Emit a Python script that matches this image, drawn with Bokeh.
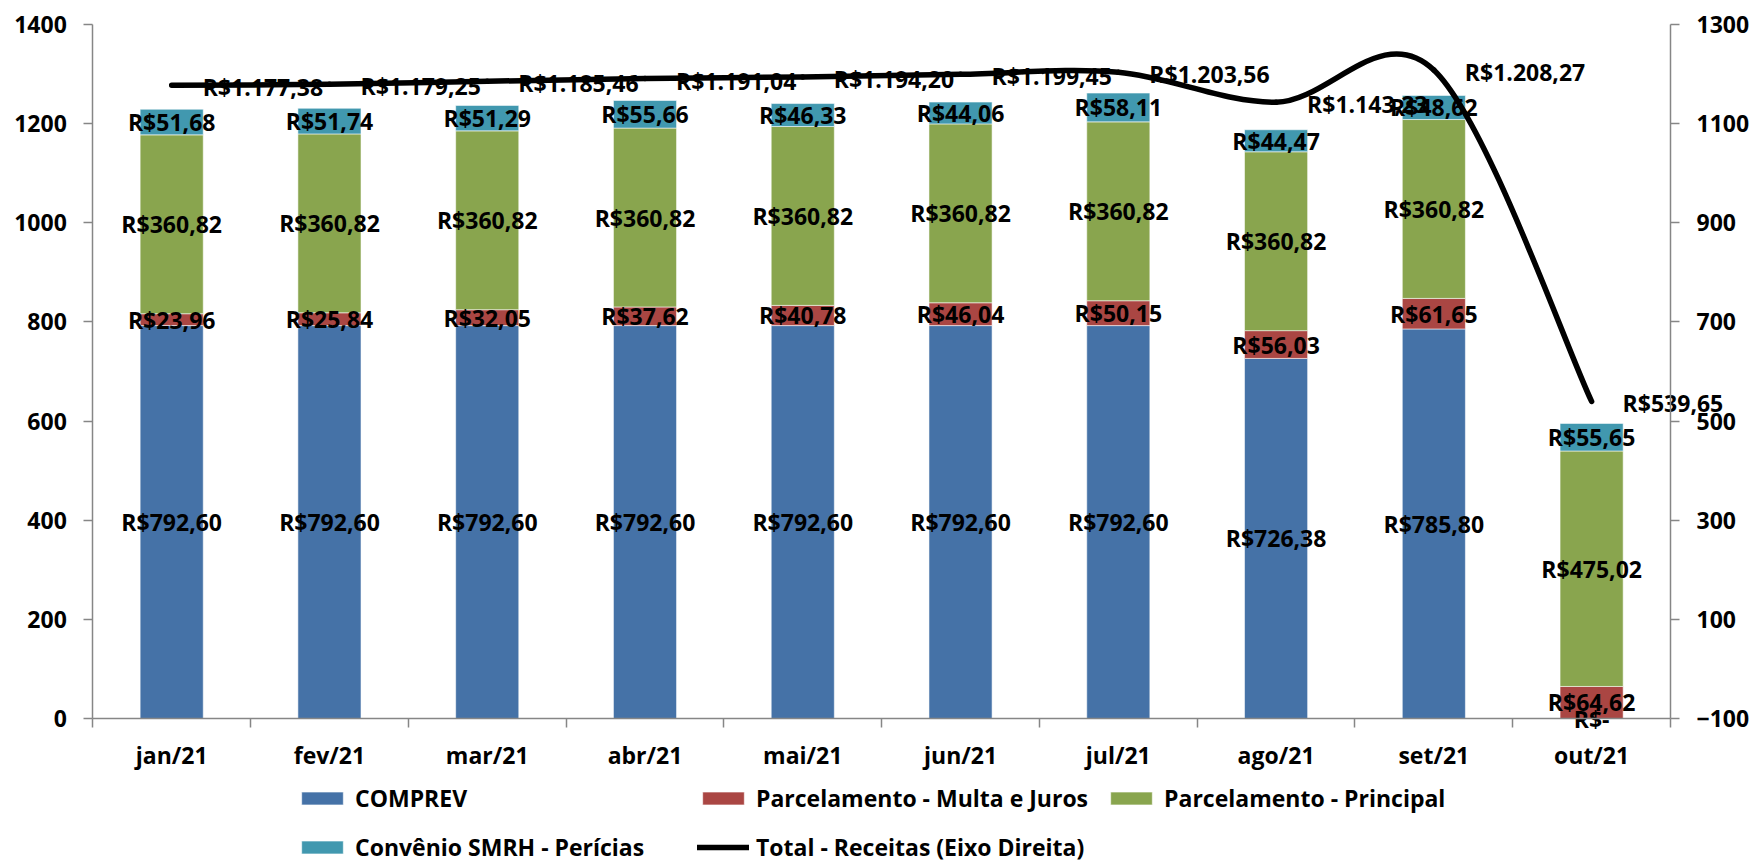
import numpy as np
from bokeh.plotting import figure
from bokeh.models import (ColumnDataSource, Range1d, LinearAxis, FixedTicker,
                          Legend, LegendItem)
from bokeh.core.properties import value
from bokeh.embed import file_html
from bokeh.resources import INLINE

# ---------------- data ----------------
categories = ["jan/21", "fev/21", "mar/21", "abr/21", "mai/21",
              "jun/21", "jul/21", "ago/21", "set/21", "out/21"]
comprev = [792.60, 792.60, 792.60, 792.60, 792.60, 792.60, 792.60, 726.38, 785.80, 0.0]
multa_juros = [23.96, 25.84, 32.05, 37.62, 40.78, 46.04, 50.15, 56.03, 61.65, 64.62]
principal = [360.82, 360.82, 360.82, 360.82, 360.82, 360.82, 360.82, 360.82, 360.82, 475.02]
convenio = [51.68, 51.74, 51.29, 55.66, 46.33, 44.06, 58.11, 44.47, 48.62, 55.65]
total = [1177.38, 1179.25, 1185.46, 1191.04, 1194.20, 1199.45, 1203.56, 1143.23, 1208.27, 539.65]

left_ticks = [0, 200, 400, 600, 800, 1000, 1200, 1400]
right_ticks = [-100, 100, 300, 500, 700, 900, 1100, 1300]

series_names = ["COMPREV", "Parcelamento - Multa e Juros",
                "Parcelamento - Principal", "Convênio SMRH - Perícias"]
line_name = "Total - Receitas (Eixo Direita)"
colors = ["#4572A7", "#AA4643", "#89A54E", "#4198AF"]

FONT = "Open Sans"
FSIZE = "23px"


def brl(v):
    if v == 0:
        return "R$-"
    s = f"{v:,.2f}"
    s = s.replace(",", "X").replace(".", ",").replace("X", ".")
    return "R$" + s


n = len(categories)
xs = [i + 0.5 for i in range(n)]

# ---------------- layout geometry (pixels) ----------------
W, H = 1752, 868
PL, PR, PT, PB = 92.3, 1670.0, 24.0, 718.0      # plot area edges
LMIN, LMAX = left_ticks[0], left_ticks[-1]
RMIN, RMAX = right_ticks[0], right_ticks[-1]
sx = (PR - PL) / n                  # px per category
sy = (PB - PT) / (LMAX - LMIN)      # px per unit
x_start, x_end = -PL / sx, n + (W - PR) / sx
y_start, y_end = LMIN - (H - PB) / sy, LMAX + PT / sy
shift = RMIN - LMIN

# ---------------- figure ----------------
p = figure(width=W, height=H, x_range=Range1d(x_start, x_end),
           y_range=Range1d(y_start, y_end),
           output_backend="svg", toolbar_location=None, min_border=0)
p.extra_y_ranges = {"right": Range1d(y_start + shift, y_end + shift)}
p.xgrid.visible = False
p.ygrid.visible = False
p.outline_line_color = None
p.background_fill_color = "white"

AX = "#868686"

# x axis
xa = p.xaxis[0]
xa.fixed_location = LMIN
xa.bounds = (0, n)
xa.ticker = FixedTicker(ticks=xs, minor_ticks=list(range(n + 1)))
xa.major_label_overrides = {x: c for x, c in zip(xs, categories)}
xa.major_tick_out = 0
xa.major_tick_in = 0
xa.minor_tick_out = 9
xa.minor_tick_in = 0
xa.minor_tick_line_color = AX
xa.minor_tick_line_width = 1.5
xa.major_label_standoff = 11

# left axis
ya = p.yaxis[0]
ya.fixed_location = 0
ya.bounds = (LMIN, LMAX)
ya.ticker = FixedTicker(ticks=left_ticks)
ya.minor_tick_line_color = None
ya.major_tick_out = 9
ya.major_tick_in = 0
ya.major_label_standoff = 17

# right axis
ra = LinearAxis(y_range_name="right", ticker=FixedTicker(ticks=right_ticks))
ra.fixed_location = n
ra.bounds = (RMIN, RMAX)
ra.minor_tick_line_color = None
ra.major_tick_out = 9
ra.major_tick_in = 0
ra.major_label_standoff = 17
p.add_layout(ra, "right")

for ax in (xa, ya, ra):
    ax.axis_line_color = AX
    ax.axis_line_width = 1.5
    ax.major_tick_line_color = AX
    ax.major_tick_line_width = 1.5
    ax.major_label_text_font = FONT
    ax.major_label_text_font_style = "bold"
    ax.major_label_text_font_size = FSIZE
    ax.major_label_text_color = "black"

# ---------------- stacked bars ----------------
keys = ["comprev", "multa", "principal", "convenio"]
src = ColumnDataSource(dict(x=xs, comprev=comprev, multa=multa_juros,
                            principal=principal, convenio=convenio))
bars = p.vbar_stack(keys, x="x", width=0.4, color=colors, source=src,
                    line_color="#ffffff", line_alpha=0.55, line_width=1)

# bar labels (segment centres)
lx, ly, lt = [], [], []
bottom = np.zeros(n)
for vals in (comprev, multa_juros, principal, convenio):
    v = np.array(vals)
    centers = bottom + v / 2
    lx += xs
    ly += list(centers)
    lt += [brl(a) for a in vals]
    bottom = bottom + v
bar_lab_src = ColumnDataSource(dict(x=lx, y=ly, t=lt))
p.text(x="x", y="y", text="t", source=bar_lab_src,
       text_align="center", text_baseline="middle",
       text_font=value(FONT), text_font_style="bold",
       text_font_size=FSIZE, text_color="black")

# total labels
tot_src = ColumnDataSource(dict(x=xs, y=total, t=[brl(v) for v in total]))
p.text(x="x", y="y", text="t", source=tot_src, y_range_name="right",
       x_offset=31, y_offset=2,
       text_align="left", text_baseline="middle",
       text_font=value(FONT), text_font_style="bold",
       text_font_size=FSIZE, text_color="black")

# ---------------- smoothed total line (Bezier segments) ----------------
x0s, y0s, x1s, y1s, c0x, c0y, c1x, c1y = [], [], [], [], [], [], [], []
for i in range(n - 1):
    xa0, ya0 = (xs[i - 1], total[i - 1]) if i > 0 else (xs[i], total[i])
    xb, yb = xs[i], total[i]
    xc, yc = xs[i + 1], total[i + 1]
    xd, yd = (xs[i + 2], total[i + 2]) if i + 2 < n else (xs[i + 1], total[i + 1])
    x0s.append(xb); y0s.append(yb)
    x1s.append(xc); y1s.append(yc)
    c0x.append(xb + (xc - xa0) / 6); c0y.append(yb + (yc - ya0) / 6)
    c1x.append(xc - (xd - xb) / 6); c1y.append(yc - (yd - yb) / 6)
line_src = ColumnDataSource(dict(x0=x0s, y0=y0s, x1=x1s, y1=y1s,
                                 cx0=c0x, cy0=c0y, cx1=c1x, cy1=c1y))
line_r = p.bezier(x0="x0", y0="y0", x1="x1", y1="y1", cx0="cx0", cy0="cy0",
                  cx1="cx1", cy1="cy1", source=line_src, y_range_name="right",
                  line_color="black", line_width=5.5, line_cap="round")

# ---------------- legend ----------------
items = [LegendItem(label=nm, renderers=[r]) for nm, r in zip(series_names, bars)]
items.append(LegendItem(label=line_name, renderers=[line_r]))
legend = Legend(items=items, orientation="horizontal", ncols=3,
                location=(296, 5),
                glyph_width=52, glyph_height=16, label_standoff=7,
                label_width=325, label_height=30, spacing=17,
                padding=0, margin=0,
                border_line_color=None, background_fill_alpha=0,
                label_text_font=FONT, label_text_font_style="bold",
                label_text_font_size=FSIZE, label_text_color="black")
p.add_layout(legend, "center")

open("out.html", "w").write(file_html(p, INLINE))
